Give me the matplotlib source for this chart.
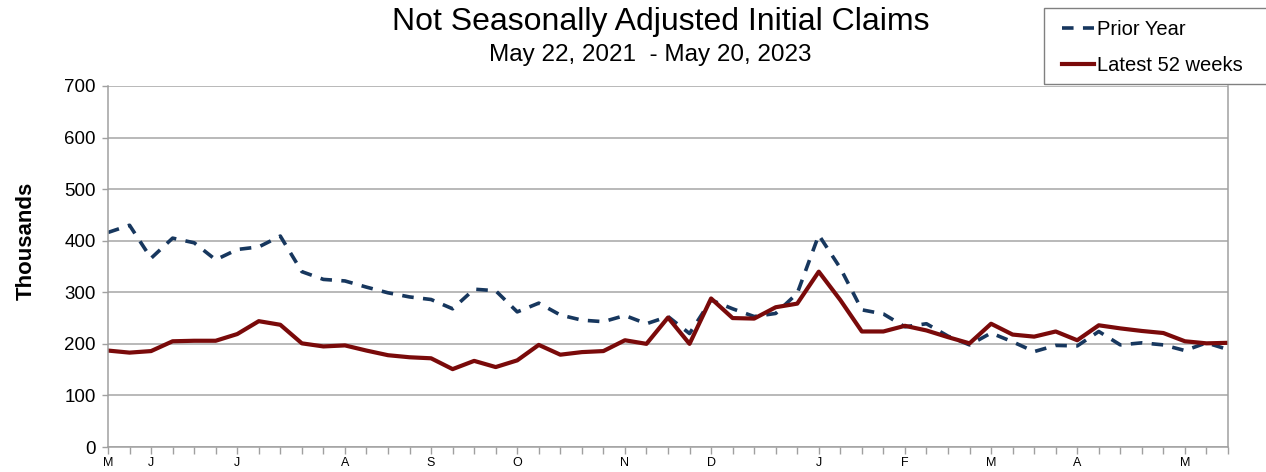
import matplotlib
matplotlib.use("Agg")
import matplotlib.pyplot as plt
from matplotlib.patches import Rectangle

plt.rcParams['font.family'] = ['Liberation Sans', 'DejaVu Sans']

# Weekly data (thousands), 53 weeks
prior_year = [416, 430, 366, 405, 396, 363, 383, 388, 409, 340, 325, 322, 310, 299, 291,
              286, 268, 306, 303, 262, 279, 256, 246, 243, 255, 239, 253, 220, 285, 268,
              253, 259, 298, 411, 347, 266, 258, 233, 239, 215, 198, 221, 204, 185, 197,
              196, 224, 198, 202, 198, 187, 202, 189]
latest_52 = [187, 183, 186, 205, 206, 206, 219, 244, 237, 201, 195, 197, 187, 178, 174,
             172, 151, 167, 155, 168, 198, 179, 184, 186, 207, 200, 251, 200, 288, 250,
             249, 271, 278, 340, 285, 224, 224, 235, 226, 213, 201, 239, 218, 214, 224,
             207, 236, 230, 225, 221, 205, 201, 202]
month_labels = {0: "M", 2: "J", 6: "J", 11: "A", 15: "S", 19: "O", 24: "N", 28: "D",
                33: "J", 37: "F", 41: "M", 45: "A", 50: "M"}
y_ticks = [0, 100, 200, 300, 400, 500, 600, 700]

W, H = 1266, 472
fig = plt.figure(figsize=(W / 100, H / 100), dpi=100)
ax = fig.add_axes([108 / W, 1 - 447 / H, (1228 - 108) / W, (447 - 86) / H])

x = list(range(len(latest_52)))
ax.plot(x, prior_year, color="#17375E", lw=2.6, ls=(0, (3.2, 2.6)), label="Prior Year",
        dash_capstyle="butt")
ax.plot(x, latest_52, color="#7A0A0A", lw=3.0, label="Latest 52 weeks")

ax.set_xlim(0, len(x) - 1)
ax.set_ylim(0, 700)
ax.set_yticks(y_ticks)
ax.set_yticklabels([str(v) for v in y_ticks], fontsize=13.5)
ax.set_xticks(x)
ax.set_xticklabels([month_labels.get(i, "") for i in x], fontsize=9)
ax.tick_params(axis="x", length=5, width=1, color="#A0A0A0", pad=2)
ax.tick_params(axis="y", length=4, width=1, color="#A0A0A0", pad=5)
ax.grid(axis="y", color="#A6A6A6", lw=1.1)
ax.set_axisbelow(True)
for s in ["left", "right", "bottom"]:
    ax.spines[s].set_color("#A0A0A0")
    ax.spines[s].set_linewidth(1.1)
ax.spines["top"].set_visible(False)

ax.set_ylabel("Thousands", fontsize=16, fontweight="bold")
ax.yaxis.set_label_coords(-0.064, 0.57)

fig.text(661 / W, 1 - 22 / H, "Not Seasonally Adjusted Initial Claims", ha="center",
         va="center", fontsize=23)
fig.text(650 / W, 1 - 55 / H, "May 22, 2021  - May 20, 2023", ha="center", va="center",
         fontsize=17.5)

# legend box
fig.patches.append(Rectangle((1044 / W, 1 - 84 / H), (1270 - 1044) / W, 76 / H,
                             transform=fig.transFigure, fill=False, edgecolor="#808080",
                             lw=1.0))
leg = fig.legend(loc="upper left", bbox_to_anchor=(1058 / W, 1 - 16 / H), fontsize=14.5,
                 frameon=False, handlelength=1.6, handletextpad=0.15, labelspacing=0.85,
                 borderpad=0.2, borderaxespad=0)

fig.savefig("out.png", dpi=100)
